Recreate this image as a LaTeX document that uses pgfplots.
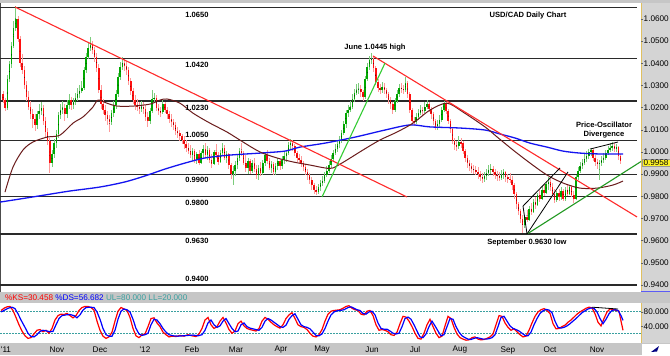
\documentclass[border=0pt]{standalone}
\usepackage{fontspec}
\setmainfont{Liberation Sans}
\usepackage{pgfplots}
\usepackage{pgfplotstable}
\pgfplotsset{compat=1.18}
\definecolor{upG}{HTML}{00A800}
\definecolor{upW}{HTML}{7CCC7C}
\definecolor{dnR}{HTML}{FF1010}
\definecolor{dnW}{HTML}{FF9A9A}
\definecolor{maBlue}{HTML}{1414F0}
\definecolor{maBrown}{HTML}{6A1B1B}
\definecolor{tlRed}{HTML}{FF2A2A}
\definecolor{tlGreen}{HTML}{33CC33}
\definecolor{tlGreen2}{HTML}{229922}
\definecolor{oscTeal}{HTML}{3AA0A0}
\definecolor{band}{HTML}{C6C6C6}
\definecolor{strip}{HTML}{D4D4D4}
\definecolor{lvl}{HTML}{2A2A2A}
\definecolor{edge}{HTML}{E0C060}
\pgfplotsset{candle/.style={only marks, mark=*, mark size=0.01pt,
  mark options={draw=none, fill=none},
  error bars/.cd, y dir=both, y explicit, error mark=none}}
\pgfplotstableread{
O H L C
1.0260 1.0275 1.0220 1.0234
1.0234 1.0245 1.0185 1.0200
1.0200 1.0345 1.0190 1.0330
1.0330 1.0410 1.0315 1.0395
1.0395 1.0495 1.0380 1.0480
1.0480 1.0590 1.0470 1.0560
1.0560 1.0658 1.0545 1.0600
1.0600 1.0615 1.0495 1.0510
1.0510 1.0525 1.0385 1.0400
1.0400 1.0440 1.0350 1.0370
1.0370 1.0390 1.0285 1.0300
1.0300 1.0320 1.0230 1.0250
1.0250 1.0275 1.0190 1.0205
1.0205 1.0230 1.0150 1.0170
1.0170 1.0195 1.0110 1.0150
1.0150 1.0170 1.0095 1.0120
1.0120 1.0185 1.0105 1.0170
1.0170 1.0215 1.0150 1.0185
1.0185 1.0225 1.0165 1.0200
1.0200 1.0210 1.0120 1.0140
1.0140 1.0160 1.0065 1.0090
1.0090 1.0110 1.0030 1.0050
1.0050 1.0065 0.9905 0.9950
0.9950 1.0010 0.9930 0.9990
0.9990 1.0060 0.9975 1.0040
1.0040 1.0100 1.0020 1.0080
1.0080 1.0180 1.0065 1.0165
1.0165 1.0215 1.0150 1.0190
1.0190 1.0230 1.0170 1.0200
1.0200 1.0215 1.0140 1.0170
1.0170 1.0235 1.0155 1.0210
1.0210 1.0260 1.0195 1.0235
1.0235 1.0250 1.0190 1.0210
1.0210 1.0245 1.0195 1.0225
1.0225 1.0265 1.0210 1.0245
1.0245 1.0290 1.0230 1.0260
1.0260 1.0300 1.0245 1.0275
1.0275 1.0320 1.0265 1.0290
1.0290 1.0385 1.0280 1.0370
1.0370 1.0445 1.0355 1.0430
1.0430 1.0490 1.0420 1.0470
1.0470 1.0520 1.0455 1.0482
1.0482 1.0500 1.0440 1.0460
1.0460 1.0475 1.0405 1.0430
1.0430 1.0445 1.0360 1.0380
1.0380 1.0395 1.0265 1.0280
1.0280 1.0300 1.0195 1.0215
1.0215 1.0240 1.0170 1.0190
1.0190 1.0210 1.0140 1.0165
1.0165 1.0185 1.0120 1.0150
1.0150 1.0165 1.0090 1.0135
1.0135 1.0190 1.0120 1.0175
1.0175 1.0230 1.0160 1.0210
1.0210 1.0280 1.0195 1.0260
1.0260 1.0355 1.0250 1.0340
1.0340 1.0405 1.0325 1.0385
1.0385 1.0430 1.0370 1.0400
1.0400 1.0420 1.0365 1.0390
1.0390 1.0410 1.0345 1.0370
1.0370 1.0385 1.0300 1.0320
1.0320 1.0335 1.0255 1.0275
1.0275 1.0290 1.0215 1.0235
1.0235 1.0255 1.0190 1.0210
1.0210 1.0240 1.0185 1.0205
1.0205 1.0225 1.0170 1.0195
1.0195 1.0230 1.0180 1.0205
1.0205 1.0225 1.0170 1.0195
1.0195 1.0210 1.0140 1.0160
1.0160 1.0180 1.0115 1.0140
1.0140 1.0200 1.0125 1.0185
1.0185 1.0279 1.0175 1.0240
1.0240 1.0265 1.0220 1.0245
1.0245 1.0255 1.0185 1.0200
1.0200 1.0215 1.0165 1.0185
1.0185 1.0205 1.0160 1.0180
1.0180 1.0235 1.0170 1.0215
1.0215 1.0225 1.0175 1.0190
1.0190 1.0205 1.0150 1.0170
1.0170 1.0185 1.0130 1.0150
1.0150 1.0170 1.0115 1.0135
1.0135 1.0150 1.0100 1.0120
1.0120 1.0135 1.0075 1.0095
1.0095 1.0115 1.0065 1.0085
1.0085 1.0100 1.0050 1.0070
1.0070 1.0080 1.0035 1.0055
1.0055 1.0070 1.0015 1.0035
1.0035 1.0055 1.0000 1.0020
1.0020 1.0040 0.9990 1.0005
1.0005 1.0030 0.9975 0.9985
0.9985 1.0020 0.9960 1.0005
1.0005 1.0015 0.9950 0.9962
0.9962 1.0000 0.9945 0.9990
0.9990 1.0010 0.9940 0.9952
0.9952 1.0005 0.9945 0.9995
0.9995 1.0030 0.9970 1.0015
1.0015 1.0040 0.9975 0.9985
0.9985 1.0025 0.9965 1.0010
1.0010 1.0020 0.9950 0.9962
0.9962 0.9990 0.9930 0.9945
0.9945 1.0010 0.9940 0.9998
0.9998 1.0035 0.9975 0.9985
0.9985 1.0000 0.9940 0.9955
0.9955 1.0010 0.9950 0.9995
0.9995 1.0040 0.9980 1.0020
1.0020 1.0030 0.9965 0.9975
0.9975 1.0005 0.9950 0.9990
0.9990 0.9995 0.9925 0.9940
0.9940 0.9950 0.9880 0.9900
0.9900 0.9935 0.9850 0.9915
0.9915 0.9960 0.9890 0.9940
0.9940 0.9990 0.9925 0.9975
0.9975 1.0020 0.9960 1.0005
1.0005 1.0040 0.9980 0.9995
0.9995 1.0005 0.9940 0.9950
0.9950 0.9985 0.9910 0.9930
0.9930 0.9975 0.9900 0.9960
0.9960 0.9970 0.9900 0.9915
0.9915 0.9965 0.9905 0.9950
0.9950 0.9975 0.9910 0.9925
0.9925 0.9940 0.9880 0.9895
0.9895 0.9940 0.9875 0.9930
0.9930 0.9955 0.9890 0.9905
0.9905 0.9965 0.9895 0.9950
0.9950 1.0000 0.9935 0.9985
0.9985 1.0010 0.9945 0.9960
0.9960 0.9975 0.9920 0.9930
0.9930 0.9960 0.9905 0.9945
0.9945 0.9955 0.9895 0.9910
0.9910 0.9950 0.9895 0.9938
0.9938 0.9975 0.9920 0.9960
0.9960 0.9970 0.9920 0.9935
0.9935 0.9980 0.9925 0.9965
0.9965 1.0000 0.9945 0.9980
0.9980 1.0010 0.9955 0.9995
0.9995 1.0045 0.9985 1.0030
1.0030 1.0058 1.0015 1.0040
1.0040 1.0055 1.0005 1.0025
1.0025 1.0035 0.9980 0.9995
0.9995 1.0005 0.9955 0.9972
0.9972 0.9990 0.9945 0.9965
0.9965 0.9980 0.9930 0.9950
0.9950 0.9960 0.9915 0.9932
0.9932 0.9945 0.9895 0.9912
0.9912 0.9925 0.9875 0.9895
0.9895 0.9905 0.9855 0.9875
0.9875 0.9885 0.9830 0.9850
0.9850 0.9860 0.9812 0.9830
0.9830 0.9845 0.9806 0.9820
0.9820 0.9855 0.9810 0.9840
0.9840 0.9875 0.9825 0.9858
0.9858 0.9890 0.9845 0.9870
0.9870 0.9910 0.9860 0.9895
0.9895 0.9935 0.9885 0.9915
0.9915 0.9960 0.9905 0.9940
0.9940 0.9985 0.9930 0.9970
0.9970 1.0010 0.9960 0.9995
0.9995 1.0035 0.9985 1.0015
1.0015 1.0050 1.0000 1.0035
1.0035 1.0070 1.0020 1.0050
1.0050 1.0100 1.0040 1.0085
1.0085 1.0140 1.0075 1.0125
1.0125 1.0190 1.0110 1.0175
1.0175 1.0210 1.0160 1.0190
1.0190 1.0230 1.0180 1.0205
1.0205 1.0260 1.0195 1.0240
1.0240 1.0285 1.0225 1.0265
1.0265 1.0305 1.0255 1.0280
1.0280 1.0310 1.0260 1.0285
1.0285 1.0300 1.0250 1.0270
1.0270 1.0280 1.0230 1.0250
1.0250 1.0345 1.0240 1.0330
1.0330 1.0400 1.0320 1.0385
1.0385 1.0435 1.0370 1.0415
1.0415 1.0445 1.0395 1.0420
1.0420 1.0435 1.0360 1.0380
1.0380 1.0390 1.0300 1.0315
1.0315 1.0330 1.0270 1.0290
1.0290 1.0305 1.0260 1.0280
1.0280 1.0315 1.0265 1.0292
1.0292 1.0310 1.0260 1.0280
1.0280 1.0290 1.0245 1.0262
1.0262 1.0270 1.0215 1.0235
1.0235 1.0250 1.0195 1.0215
1.0215 1.0225 1.0170 1.0190
1.0190 1.0245 1.0180 1.0230
1.0230 1.0280 1.0220 1.0260
1.0260 1.0305 1.0250 1.0290
1.0290 1.0310 1.0265 1.0285
1.0285 1.0300 1.0260 1.0280
1.0280 1.0340 1.0270 1.0310
1.0310 1.0320 1.0245 1.0260
1.0260 1.0270 1.0175 1.0190
1.0190 1.0200 1.0120 1.0140
1.0140 1.0160 1.0115 1.0135
1.0135 1.0175 1.0125 1.0158
1.0158 1.0195 1.0145 1.0175
1.0175 1.0210 1.0165 1.0190
1.0190 1.0205 1.0165 1.0185
1.0185 1.0225 1.0175 1.0205
1.0205 1.0235 1.0195 1.0215
1.0215 1.0225 1.0180 1.0195
1.0195 1.0205 1.0150 1.0170
1.0170 1.0180 1.0120 1.0140
1.0140 1.0150 1.0100 1.0115
1.0115 1.0145 1.0100 1.0125
1.0125 1.0165 1.0115 1.0145
1.0145 1.0205 1.0135 1.0190
1.0190 1.0230 1.0180 1.0215
1.0215 1.0225 1.0170 1.0185
1.0185 1.0195 1.0125 1.0140
1.0140 1.0150 1.0085 1.0105
1.0105 1.0115 1.0035 1.0050
1.0050 1.0065 1.0010 1.0030
1.0030 1.0050 1.0005 1.0025
1.0025 1.0070 1.0015 1.0045
1.0045 1.0065 1.0020 1.0040
1.0040 1.0050 0.9990 1.0005
1.0005 1.0015 0.9955 0.9975
0.9975 0.9985 0.9930 0.9950
0.9950 0.9965 0.9915 0.9935
0.9935 0.9950 0.9905 0.9925
0.9925 0.9940 0.9900 0.9918
0.9920 0.9935 0.9895 0.9910
0.9910 0.9930 0.9880 0.9900
0.9900 0.9915 0.9870 0.9888
0.9888 0.9905 0.9862 0.9880
0.9880 0.9910 0.9865 0.9892
0.9892 0.9925 0.9875 0.9905
0.9905 0.9940 0.9890 0.9920
0.9920 0.9945 0.9900 0.9925
0.9925 0.9935 0.9890 0.9908
0.9908 0.9925 0.9880 0.9898
0.9898 0.9915 0.9870 0.9890
0.9890 0.9910 0.9868 0.9884
0.9884 0.9920 0.9872 0.9898
0.9898 0.9925 0.9880 0.9908
0.9908 0.9915 0.9865 0.9885
0.9885 0.9900 0.9860 0.9880
0.9880 0.9905 0.9862 0.9875
0.9875 0.9890 0.9830 0.9850
0.9850 0.9860 0.9790 0.9810
0.9810 0.9820 0.9745 0.9765
0.9765 0.9775 0.9715 0.9735
0.9735 0.9745 0.9680 0.9700
0.9700 0.9715 0.9633 0.9670
0.9670 0.9715 0.9655 0.9705
0.9705 0.9740 0.9685 0.9695
0.9695 0.9755 0.9690 0.9745
0.9745 0.9770 0.9715 0.9730
0.9730 0.9790 0.9725 0.9775
0.9775 0.9795 0.9745 0.9760
0.9760 0.9815 0.9755 0.9805
0.9805 0.9830 0.9775 0.9790
0.9790 0.9845 0.9785 0.9830
0.9830 0.9850 0.9800 0.9815
0.9815 0.9870 0.9810 0.9855
0.9855 0.9885 0.9830 0.9865
0.9865 0.9880 0.9825 0.9840
0.9840 0.9860 0.9795 0.9810
0.9810 0.9835 0.9770 0.9785
0.9785 0.9825 0.9775 0.9815
0.9815 0.9835 0.9780 0.9795
0.9795 0.9840 0.9785 0.9825
0.9825 0.9835 0.9780 0.9790
0.9790 0.9840 0.9780 0.9830
0.9830 0.9855 0.9800 0.9812
0.9812 0.9850 0.9805 0.9840
0.9840 0.9850 0.9795 0.9805
0.9805 0.9825 0.9772 0.9790
0.9790 0.9895 0.9785 0.9885
0.9885 0.9930 0.9875 0.9915
0.9915 0.9955 0.9905 0.9935
0.9935 0.9970 0.9925 0.9950
0.9950 0.9990 0.9940 0.9968
0.9968 1.0005 0.9955 0.9980
0.9980 1.0015 0.9970 0.9998
0.9998 1.0020 0.9980 1.0008
1.0008 1.0015 0.9960 0.9975
0.9975 0.9985 0.9935 0.9955
0.9955 0.9970 0.9925 0.9945
0.9945 0.9965 0.9875 0.9952
0.9952 0.9980 0.9935 0.9962
0.9962 0.9995 0.9950 0.9975
0.9975 1.0010 0.9965 0.9995
0.9995 1.0025 0.9985 1.0010
1.0010 1.0040 1.0000 1.0020
1.0020 1.0045 1.0005 1.0028
1.0028 1.0040 1.0000 1.0015
1.0015 1.0035 1.0000 1.0022
1.0022 1.0025 0.9965 0.9980
0.9980 0.9990 0.9945 0.9958
}\candles
\begin{document}
\begin{tikzpicture}[x=1bp,y=1bp]
\useasboundingbox (0,0) rectangle (670,355);
\fill[band] (0,0) rectangle (670,355);
\fill[white] (0,63) rectangle (641,352);
\fill[strip] (641,63) rectangle (670,352);
\fill[white] (0,12) rectangle (641,52);
\fill[strip] (641,12) rectangle (670,52);
\draw[edge, line width=0.8bp] (641.4,63) -- (641.4,352);
\draw[edge, line width=0.8bp] (641.4,12) -- (641.4,52);
\draw[maBlue!70, line width=0.8bp] (641,63.4) -- (670,63.4);
\draw[black!70, line width=0.8bp] (0.4,63) -- (0.4,352);
\fill[white] (642,0) rectangle (670,11);
\fill[blue!50!black] (651,3) -- (659,9) -- (657,3.5) -- cycle;
\begin{axis}[at={(0bp,64bp)}, anchor=south west, scale only axis,
  width=641bp, height=288bp, xmin=0, xmax=641, ymin=0.93730, ymax=1.06719,
  axis line style={draw=none}, xtick=\empty,
  ytick={0.94,0.95,0.96,0.97,0.98,0.99,1.00,1.01,1.02,1.03,1.04,1.05,1.06},
  ytick pos=right, yticklabel pos=right,
  tick style={black!60, line width=0.4bp}, major tick length=2bp, tick align=outside,
  yticklabel style={font=\fontsize{8.2}{9}\selectfont, anchor=west, inner sep=0.5bp,
    /pgf/number format/.cd, fixed, fixed zerofill, precision=4, assume math mode=true}]
% level lines
\addplot[lvl, line width=1.2bp] coordinates {(0,1.0650) (637,1.0650)};
\addplot[lvl, line width=1.2bp] coordinates {(0,1.0420) (637,1.0420)};
\addplot[lvl, line width=1.2bp] coordinates {(0,1.0230) (637,1.0230)};
\addplot[lvl, line width=1.2bp] coordinates {(0,1.0050) (637,1.0050)};
\addplot[lvl, line width=1.2bp] coordinates {(0,0.9900) (637,0.9900)};
\addplot[lvl, line width=1.2bp] coordinates {(0,0.9800) (637,0.9800)};
\addplot[lvl, line width=1.2bp] coordinates {(0,0.9630) (637,0.9630)};
\addplot[lvl, line width=1.2bp] coordinates {(0,0.9400) (637,0.9400)};
% wicks
\addplot[candle, error bar style={upW, line width=0.75bp}]
  table[x expr=3+2.13*\coordindex, y expr={(\thisrow{H}+\thisrow{L})/2},
   y error expr={(\thisrow{H}-\thisrow{L})/2},
   restrict expr to domain={\thisrow{C}-\thisrow{O}}{0:1}] {\candles};
\addplot[candle, error bar style={dnW, line width=0.75bp}]
  table[x expr=3+2.13*\coordindex, y expr={(\thisrow{H}+\thisrow{L})/2},
   y error expr={(\thisrow{H}-\thisrow{L})/2},
   restrict expr to domain={\thisrow{C}-\thisrow{O}}{-1:0}] {\candles};
% bodies
\addplot[candle, error bar style={upG, line width=1.5bp}]
  table[x expr=3+2.13*\coordindex, y expr={(\thisrow{O}+\thisrow{C})/2},
   y error expr={max(abs(\thisrow{C}-\thisrow{O})/2,0.00012)},
   restrict expr to domain={\thisrow{C}-\thisrow{O}}{0:1}] {\candles};
\addplot[candle, error bar style={dnR, line width=1.5bp}]
  table[x expr=3+2.13*\coordindex, y expr={(\thisrow{O}+\thisrow{C})/2},
   y error expr={max(abs(\thisrow{C}-\thisrow{O})/2,0.00012)},
   restrict expr to domain={\thisrow{C}-\thisrow{O}}{-1:0}] {\candles};
% moving averages
\addplot[maBlue, line width=1.3bp, smooth] coordinates {
(0,0.9774) (20,0.9788) (45,0.9806) (70,0.9824) (100,0.9842) (125,0.9865) (145,0.9892)
(165,0.9923) (185,0.9950) (205,0.9973) (230,0.9986) (260,0.9995) (285,1.0004)
(300,1.0022) (325,1.0040) (355,1.0067) (385,1.0099) (410,1.0122) (430,1.0113)
(460,1.0108) (485,1.0099) (500,1.0081) (515,1.0063) (530,1.0040) (547,1.0022)
(563,1.0004) (580,0.9995) (600,0.9991) (623,0.9991)};
\addplot[maBrown, line width=1bp, smooth] coordinates {
(5,0.9819) (13,0.9932) (23,1.0009) (33,1.0045) (47,1.0067) (60,1.0076) (73,1.0130)
(83,1.0158) (93,1.0203) (98,1.0234) (107,1.0220) (117,1.0207) (133,1.0207) (150,1.0216)
(160,1.0234) (167,1.0239) (180,1.0220) (193,1.0175) (210,1.0130) (227,1.0090)
(243,1.0045) (260,1.0000) (277,0.9973) (293,0.9955) (310,0.9941) (325,0.9928)
(333,0.9928) (347,0.9964) (363,1.0009) (380,1.0054) (397,1.0090) (413,1.0130)
(430,1.0189) (447,1.0220) (463,1.0180) (485,1.0113) (497,1.0068) (513,1.0009)
(530,0.9950) (547,0.9896) (563,0.9860) (580,0.9837) (597,0.9837) (613,0.9851) (623,0.9869)};
% trend lines
\addplot[tlRed, line width=1.1bp] coordinates {(15,1.0654) (407,0.9797)};
\addplot[tlRed, line width=1.1bp] coordinates {(373,1.0433) (637,0.9707)};
\addplot[tlGreen, line width=1.1bp] coordinates {(322,0.9797) (385,1.0401)};
\addplot[tlGreen2, line width=1.1bp] coordinates {(527,0.9630) (641,0.9957)};
\addplot[black, line width=0.8bp] coordinates {(527,0.9630) (523,0.9756) (560,0.9928)};
\addplot[black, line width=0.8bp] coordinates {(527,0.9630) (568,0.9910)};
\addplot[black, line width=0.8bp] coordinates {(590,1.0013) (618,1.0045)};
\end{axis}
% oscillator
\begin{axis}[at={(0bp,12bp)}, anchor=south west, scale only axis,
  width=641bp, height=40bp, xmin=0, xmax=641, ymin=-4.63, ymax=104.36,
  axis line style={draw=none},
  ytick={40,80}, ytick pos=right, yticklabel pos=right,
  tick style={black!60, line width=0.4bp}, major tick length=2bp, tick align=outside,
  yticklabel style={font=\fontsize{8.2}{9}\selectfont, anchor=west, inner sep=0.5bp,
    /pgf/number format/.cd, fixed, fixed zerofill, precision=3, assume math mode=true},
  xtick={6,57,100,145,192,236,281,322,372,415,460,508,550,597},
  xticklabels={\textquotesingle 11,Nov,Dec,\textquotesingle 12,Feb,Mar,Apr,May,Jun,Jul,Aug,Sep,Oct,Nov},
  x tick style={draw=none}, xtick pos=bottom,
  xticklabel style={font=\fontsize{8.2}{9}\selectfont, anchor=center, yshift=-5bp, inner sep=0pt}]
\addplot[oscTeal, line width=1bp, dash pattern=on 1.5bp off 1.5bp] coordinates {(0,80) (641,80)};
\addplot[oscTeal, line width=1bp, dash pattern=on 1.5bp off 1.5bp] coordinates {(0,20) (641,20)};
\addplot[red, line width=1.2bp] coordinates {
(1,84) (4,90) (7,94) (10,95) (13,84) (16,65) (19,45) (22,28) (25,15) (28,8) (31,10) (34,20)
(37,30) (40,32) (43,26) (46,30) (49,22) (52,35) (55,58) (58,70) (61,74) (64,73) (67,76)
(70,70) (73,64) (76,70) (79,84) (82,92) (85,95) (88,95) (91,92) (94,85) (97,55) (100,30)
(103,14) (106,8) (109,12) (112,25) (115,55) (118,82) (121,92) (124,88) (127,84) (130,65)
(133,35) (136,15) (139,10) (142,18) (145,20) (148,40) (151,62) (154,64) (157,50) (160,40)
(163,25) (166,18) (169,12) (172,14) (176,13) (180,16) (184,14) (188,18) (192,15) (196,13)
(199,20) (202,35) (205,58) (208,65) (211,45) (214,35) (217,40) (220,55) (223,65) (226,50)
(229,32) (232,22) (235,28) (238,48) (241,55) (244,42) (247,35) (250,32) (253,30) (256,28)
(259,35) (262,55) (265,65) (268,60) (271,52) (274,45) (277,40) (280,36) (283,45) (286,62)
(289,72) (292,78) (295,62) (298,45) (301,40) (304,38) (307,32) (310,22) (313,14) (316,12)
(319,18) (322,32) (325,55) (328,74) (331,82) (334,84) (337,85) (340,86) (343,90) (346,95)
(349,97) (352,90) (355,86) (358,84) (361,74) (364,72) (367,82) (370,84) (373,70) (376,45)
(379,30) (382,32) (385,30) (388,26) (391,18) (394,16) (397,25) (400,48) (403,68) (406,66)
(409,55) (412,40) (415,22) (418,8) (421,6) (424,22) (427,45) (430,60) (433,40) (436,22)
(439,10) (442,14) (445,42) (448,68) (451,62) (454,38) (457,20) (460,10) (463,6) (466,3)
(469,4) (472,10) (475,12) (478,6) (481,4) (484,5) (487,8) (490,12) (493,20) (496,45)
(499,70) (502,68) (505,50) (508,38) (511,30) (514,34) (517,26) (520,18) (523,12) (526,14)
(529,30) (532,50) (535,68) (538,80) (541,86) (544,89) (547,84) (550,76) (553,48) (556,34)
(559,35) (562,40) (565,44) (568,52) (571,58) (574,66) (577,74) (580,80) (583,85) (586,90)
(589,93) (592,91) (595,75) (598,52) (601,42) (604,62) (607,80) (610,88) (613,87) (616,84)
(619,82) (621,55) (623,30)};
\addplot[blue, line width=1.2bp] coordinates {
(1,80) (4,84) (8,90) (12,93) (15,89) (18,75) (21,58) (25,38) (28,22) (31,13) (34,12) (37,18)
(40,27) (43,30) (47,28) (50,26) (53,27) (56,45) (59,62) (62,70) (66,72) (70,73) (74,70)
(77,64) (80,72) (83,85) (86,92) (90,93) (94,92) (97,80) (100,60) (103,35) (106,18) (109,14)
(112,14) (115,30) (118,60) (121,82) (124,88) (127,86) (130,80) (133,60) (136,35) (139,20)
(142,16) (145,18) (148,22) (151,45) (154,60) (157,58) (160,48) (163,35) (166,25) (169,18)
(173,15) (178,14) (183,15) (188,16) (193,17) (198,15) (202,18) (205,30) (208,50) (211,58)
(214,45) (217,38) (220,42) (223,55) (226,62) (229,48) (232,35) (235,26) (238,28) (241,45)
(244,50) (247,40) (250,36) (253,34) (256,32) (259,30) (262,38) (265,55) (268,62) (271,58)
(274,52) (277,46) (280,40) (283,38) (286,44) (289,60) (292,70) (295,75) (298,60) (301,45)
(304,40) (307,38) (310,34) (313,25) (316,16) (319,15) (322,20) (325,35) (328,55) (331,72)
(334,80) (337,83) (340,84) (344,86) (348,92) (351,94) (354,90) (357,86) (360,84) (363,76)
(366,74) (369,80) (372,82) (375,72) (378,50) (381,35) (384,33) (387,33) (390,28) (393,22)
(396,20) (399,22) (402,40) (405,62) (408,66) (411,60) (414,45) (417,28) (420,12) (423,10)
(426,20) (429,40) (432,55) (435,42) (438,28) (441,15) (444,18) (447,40) (450,62) (453,60)
(456,40) (459,25) (462,15) (465,10) (468,6) (471,5) (474,8) (477,10) (480,8) (483,6)
(486,6) (489,7) (492,10) (495,18) (498,40) (501,65) (504,68) (507,55) (510,42) (513,35)
(516,32) (519,28) (522,22) (525,16) (528,15) (531,25) (534,45) (537,62) (540,76) (543,83)
(546,87) (549,85) (552,78) (555,55) (558,38) (561,36) (564,38) (567,42) (570,48) (573,55)
(576,62) (579,70) (582,78) (585,83) (588,88) (591,91) (594,90) (597,80) (600,62) (603,48)
(606,60) (609,75) (612,84) (615,86) (618,84) (621,70) (623,57)};
\addplot[black, line width=0.8bp] coordinates {(592,93) (618,88)};
\end{axis}
% header of oscillator
\node[anchor=west, inner sep=0pt, font=\fontsize{8.2}{9}\selectfont] at (5,57.5)
  {\textcolor{red}{\%KS=30.458} \textcolor{blue}{\%DS=56.682} \textcolor{oscTeal}{UL=80.000 LL=20.000}};
% current price marker
\node[fill=yellow!85!white, draw=black!40, line width=0.4bp, inner sep=0.8bp, minimum width=28bp,
  font=\fontsize{8.2}{9}\selectfont] at (656,192.5) {0.9958};
% level labels
\begin{scope}[every node/.style={font=\fontsize{7.6}{8}\selectfont\bfseries, inner sep=0pt}]
\node at (197,340) {1.0650};
\node at (197,290) {1.0420};
\node at (197,247) {1.0230};
\node at (197,220) {1.0050};
\node at (197,175) {0.9900};
\node at (197,152) {0.9800};
\node at (197,114) {0.9630};
\node at (197,76) {0.9400};
\node at (528,339) {USD/CAD Daily Chart};
\node at (375,307) {June 1.0445 high};
\node at (604,230) {Price-Oscillator};
\node at (604,220) {Divergence};
\node at (527,112) {September 0.9630 low};
\end{scope}
\end{tikzpicture}
\end{document}
